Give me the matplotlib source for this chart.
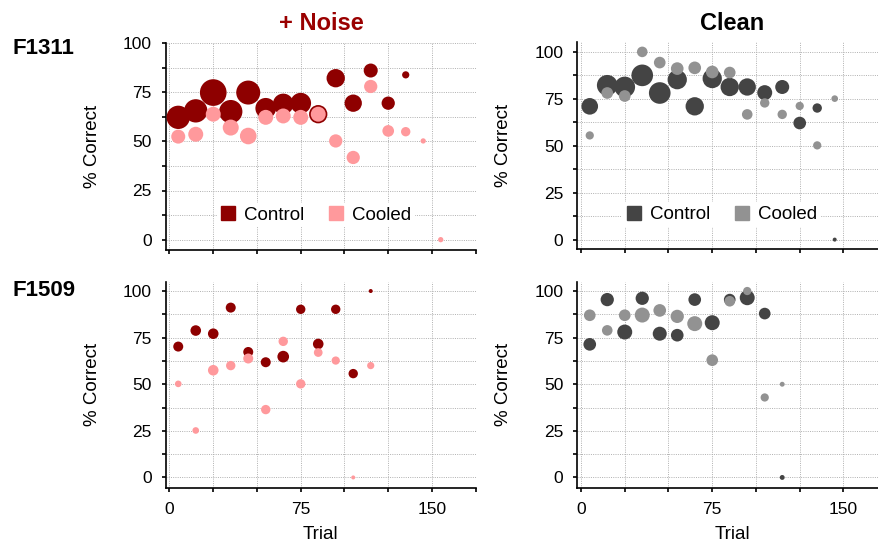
import matplotlib
matplotlib.use("Agg")
import matplotlib.pyplot as plt
from matplotlib.ticker import FixedLocator, NullFormatter
from matplotlib.lines import Line2D

plt.rcParams['font.family'] = ['Liberation Sans', 'DejaVu Sans']

# ---------------- data ----------------
# F1311, + Noise
tl_ctrl_x = [5, 15, 25, 35, 45, 55, 65, 75, 85, 95, 105, 115, 125, 135]
tl_ctrl_y = [62.2, 65.5, 74.8, 65.1, 74.8, 66.8, 69.0, 69.4, 63.8, 82.1, 69.4, 86.0, 69.4, 83.8]
tl_ctrl_n = [136, 136, 178, 136, 144, 107, 107, 107, 84, 84, 75, 49, 44, 13]
tl_cool_x = [5, 15, 25, 35, 45, 55, 65, 75, 85, 95, 105, 115, 125, 135, 145, 155]
tl_cool_y = [52.4, 53.6, 63.8, 57.0, 52.7, 62.2, 62.9, 62.2, 63.8, 50.2, 41.8, 77.9, 55.3, 54.9, 50.2, 0.0]
tl_cool_n = [49, 56, 56, 64, 69, 56, 56, 56, 56, 44, 44, 44, 34, 22, 7, 7]

# F1311, Clean
tr_ctrl_x = [5, 15, 25, 35, 45, 55, 65, 75, 85, 95, 105, 115, 125, 135, 145]
tr_ctrl_y = [71.0, 82.2, 81.3, 87.5, 78.1, 85.2, 71.0, 85.8, 81.3, 81.3, 78.3, 81.3, 62.1, 70.1, 0.0]
tr_ctrl_n = [69, 107, 107, 117, 117, 93, 84, 93, 84, 75, 56, 49, 40, 22, 4]
tr_cool_x = [5, 15, 25, 35, 45, 55, 65, 75, 85, 95, 105, 115, 125, 135, 145]
tr_cool_y = [55.5, 78.1, 76.5, 100.0, 94.3, 91.1, 91.5, 89.3, 89.0, 66.7, 72.8, 66.7, 71.2, 50.2, 75.1]
tr_cool_n = [17, 34, 34, 28, 34, 40, 40, 40, 34, 28, 22, 22, 17, 17, 11]

# F1509, + Noise
bl_ctrl_x = [5, 15, 25, 35, 45, 55, 65, 75, 85, 95, 105, 115]
bl_ctrl_y = [70.2, 78.8, 77.1, 91.1, 67.3, 61.8, 64.8, 90.2, 71.6, 90.2, 55.7, 100.0]
bl_ctrl_n = [25, 28, 28, 25, 25, 25, 34, 22, 28, 22, 22, 4]
bl_cool_x = [5, 15, 25, 35, 45, 55, 65, 75, 85, 95, 105, 115]
bl_cool_y = [50.2, 25.2, 57.5, 60.0, 63.8, 36.4, 73.0, 50.2, 67.0, 62.7, 0.0, 60.0]
bl_cool_n = [11, 11, 28, 22, 25, 22, 22, 22, 19, 17, 4, 13]

# F1509, Clean
br_ctrl_x = [5, 15, 25, 35, 45, 55, 65, 75, 85, 95, 105, 115]
br_ctrl_y = [71.4, 95.4, 78.0, 96.1, 77.1, 76.3, 95.4, 83.0, 95.4, 96.4, 87.9, 0.0]
br_ctrl_n = [40, 44, 56, 44, 49, 40, 40, 56, 34, 56, 34, 6]
br_cool_x = [5, 15, 25, 35, 45, 55, 65, 75, 85, 95, 105, 115]
br_cool_y = [87.0, 78.9, 87.0, 87.1, 89.6, 86.4, 82.5, 62.9, 94.5, 100.0, 42.9, 50.0]
br_cool_n = [34, 28, 34, 56, 40, 44, 56, 34, 28, 17, 17, 6]

col_titles = ['+ Noise', 'Clean']
row_labels = ['F1311', 'F1509']
legend_labels = ['Control', 'Cooled']
x_major = [0, 75, 150]
x_minor = [25, 50, 100, 125, 175]
y_major = [0, 25, 50, 75, 100]
y_minor = [12.5, 37.5, 62.5, 87.5]

# ---------------- style ----------------
RED_D, RED_L = '#8E0000', '#FF999C'
GRY_D, GRY_L = '#444444', '#929292'
S_SCALE = 4 * 0.72 ** 2  # n -> marker area (pt^2)

W, H = 879, 548
fig = plt.figure(figsize=(W / 100, H / 100), dpi=100)


def px_rect(left, top, width, height):
    return [left / W, (H - top - height) / H, width / W, height / H]


axes = {
    'tl': fig.add_axes(px_rect(166, 43, 309.7, 206.5)),
    'tr': fig.add_axes(px_rect(577.5, 42.5, 309.7, 206.5)),
    'bl': fig.add_axes(px_rect(166, 281.7, 309.7, 206)),
    'br': fig.add_axes(px_rect(577.5, 281.7, 309.7, 206)),
}
ylims = {'tl': (-5, 100), 'tr': (-5, 105), 'bl': (-5.5, 105), 'br': (-5.5, 105)}

panels = {
    'tl': (tl_ctrl_x, tl_ctrl_y, tl_ctrl_n, tl_cool_x, tl_cool_y, tl_cool_n, RED_D, RED_L),
    'tr': (tr_ctrl_x, tr_ctrl_y, tr_ctrl_n, tr_cool_x, tr_cool_y, tr_cool_n, GRY_D, GRY_L),
    'bl': (bl_ctrl_x, bl_ctrl_y, bl_ctrl_n, bl_cool_x, bl_cool_y, bl_cool_n, RED_D, RED_L),
    'br': (br_ctrl_x, br_ctrl_y, br_ctrl_n, br_cool_x, br_cool_y, br_cool_n, GRY_D, GRY_L),
}

for key, ax in axes.items():
    cx, cy, cn, kx, ky, kn, cd, cl = panels[key]
    ax.set_xlim(-2, 175)
    ax.set_ylim(*ylims[key])
    for sp in ['top', 'right']:
        ax.spines[sp].set_visible(False)
    for sp in ['left', 'bottom']:
        ax.spines[sp].set_linewidth(1.2)
    ax.xaxis.set_major_locator(FixedLocator(x_major))
    ax.xaxis.set_minor_locator(FixedLocator(x_minor))
    ax.yaxis.set_major_locator(FixedLocator(y_major))
    ax.yaxis.set_minor_locator(FixedLocator(y_minor))
    ax.tick_params(which='both', direction='out', length=3.2, width=1.2,
                   labelsize=12.5, pad=7, color='black')
    ax.grid(which='both', linestyle=(0, (1, 1.3)), color='#b0b0b0', linewidth=0.7)
    ax.set_axisbelow(True)
    ax.scatter(cx, cy, s=[n * S_SCALE for n in cn], color=cd, linewidths=0,
               zorder=3, clip_on=False)
    ax.scatter(kx, ky, s=[n * S_SCALE for n in kn], color=cl, linewidths=0,
               zorder=4, clip_on=False)
    ax.set_ylabel('% Correct', fontsize=13.5)
    ax.yaxis.set_label_coords(-0.21, 0.5)
    if key in ('tl', 'tr'):
        ax.xaxis.set_major_formatter(NullFormatter())
        handles = [Line2D([], [], marker='s', linestyle='none', markersize=10.5,
                          markerfacecolor=c, markeredgecolor=c) for c in (cd, cl)]
        anchor = (0.483, 0.167) if key == 'tl' else (0.465, 0.167)
        leg = ax.legend(handles, legend_labels, loc='center', bbox_to_anchor=anchor,
                        ncol=2, fontsize=13.5, frameon=True, fancybox=False,
                        handlelength=0.8, handletextpad=0.45, columnspacing=1.3,
                        borderpad=0.2, borderaxespad=0)
        leg.get_frame().set_facecolor('white')
        leg.get_frame().set_edgecolor('none')
        leg.get_frame().set_alpha(1)
        leg.set_zorder(5)
    else:
        ax.set_xlabel('Trial', fontsize=13.5)
        ax.xaxis.set_label_coords(0.5, -0.225)
        ax.xaxis.label.set_va('center')

fig.text(321 / W, 1 - 23 / H, col_titles[0], ha='center', va='center',
         fontsize=17, fontweight='bold', color='#9A0000')
fig.text(732.5 / W, 1 - 23 / H, col_titles[1], ha='center', va='center',
         fontsize=17, fontweight='bold', color='black')
fig.text(13 / W, 1 - 48 / H, row_labels[0], ha='left', va='center',
         fontsize=16, fontweight='bold')
fig.text(13 / W, 1 - 290 / H, row_labels[1], ha='left', va='center',
         fontsize=16, fontweight='bold')

fig.savefig('out.png', dpi=100)
